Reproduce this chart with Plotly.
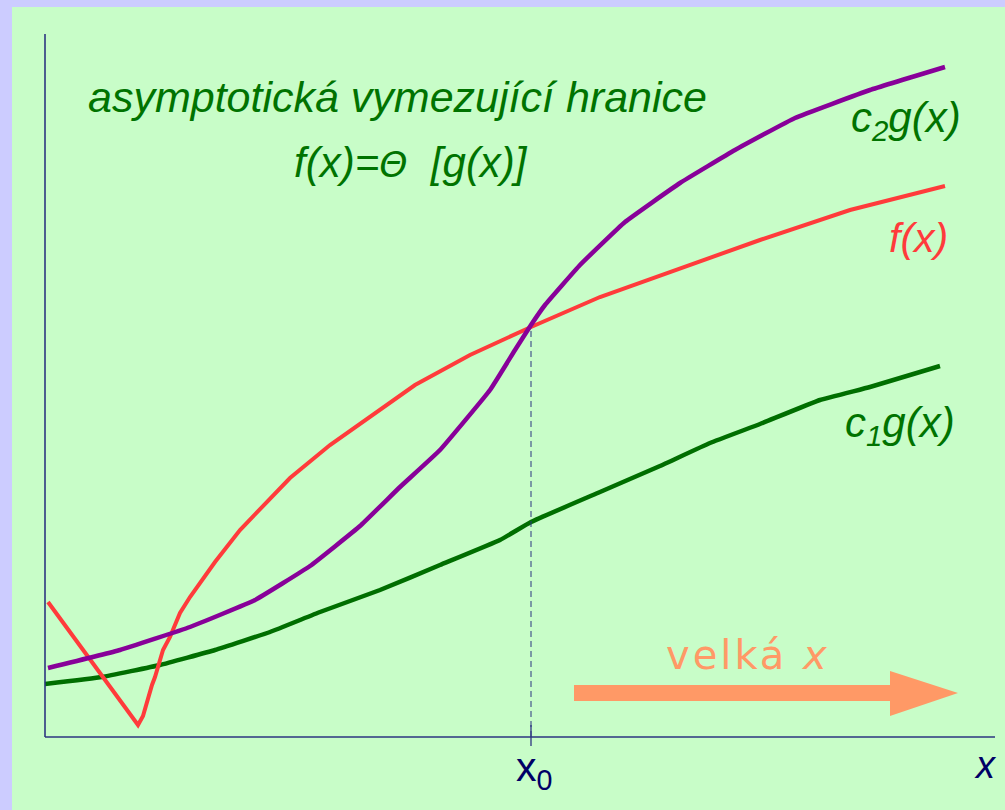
import plotly.graph_objects as go

# Data (x to the right of origin, y above the x axis)
c2g_x = [3, 75, 145, 210, 265, 315, 355, 395, 445, 470, 486, 500, 535, 580, 635, 690, 750, 825, 900]
c2g_y = [69, 87, 110, 137, 171, 211, 250, 287, 347, 387, 412, 432, 472, 515, 554, 587, 619, 647, 670]

f_x = [3, 25, 50, 73, 88, 93, 98, 101, 103, 107, 110, 115, 118, 125, 135, 145, 157, 170,
       195, 245, 285, 320, 370, 425, 486, 555, 635, 715, 805, 900]
f_y = [135, 105, 72, 40, 20, 12, 21, 32, 40, 52, 60, 77, 87, 100, 124, 140, 157, 175,
       207, 259, 292, 317, 352, 382, 410, 440, 469, 497, 527, 551]

c1g_x = [0, 57, 115, 170, 225, 275, 335, 395, 455, 486, 555, 615, 665, 715, 775, 825, 895]
c1g_y = [53, 60, 72, 87, 105, 125, 147, 172, 197, 215, 245, 271, 294, 313, 337, 350, 371]

x0 = 486
f_at_x0 = 410
x_axis_end = 950
y_axis_end = 703

GREEN_BG = "#c8fdc8"
LAVENDER = "#ccccff"
NAVY = "#2d3580"
TEXT_NAVY = "#000066"
GREEN = "#007300"
PURPLE = "#880099"
RED = "#ff3b3b"
SALMON = "#ff9966"

fig = go.Figure()

fig.add_trace(go.Scatter(x=c1g_x, y=c1g_y, mode="lines",
                         line=dict(color="#006e00", width=4.5, shape="spline", smoothing=0.3),
                         hoverinfo="skip"))
fig.add_trace(go.Scatter(x=f_x, y=f_y, mode="lines",
                         line=dict(color=RED, width=4),
                         hoverinfo="skip"))
fig.add_trace(go.Scatter(x=c2g_x, y=c2g_y, mode="lines",
                         line=dict(color=PURPLE, width=4.5, shape="spline", smoothing=0.3),
                         hoverinfo="skip"))

shapes = [
    # lavender frame strips
    dict(type="rect", xref="paper", yref="paper", x0=0, x1=1, y0=1 - 7 / 810, y1=1,
         fillcolor=LAVENDER, line=dict(width=0), layer="below"),
    dict(type="rect", xref="paper", yref="paper", x0=0, x1=12 / 1005, y0=0, y1=1,
         fillcolor=LAVENDER, line=dict(width=0), layer="below"),
    # axes
    dict(type="line", x0=0, x1=0, y0=0, y1=y_axis_end, line=dict(color=NAVY, width=1.6)),
    dict(type="line", x0=0, x1=x_axis_end, y0=0, y1=0, line=dict(color=NAVY, width=1.6)),
    # tick at x0
    dict(type="line", x0=x0, x1=x0, y0=-9, y1=12, line=dict(color=NAVY, width=1.3)),
    # dashed line up to intersection
    dict(type="line", x0=x0, x1=x0, y0=0, y1=f_at_x0, line=dict(color=NAVY, width=1, dash="6px,4px")),
    # arrow "velka x"
    dict(type="path",
         path="M 529 52 L 845 52 L 845 66 L 913 44 L 845 21 L 845 36 L 529 36 Z",
         fillcolor=SALMON, line=dict(width=0)),
]

font_main = "Liberation Sans, Arial, sans-serif"

annotations = [
    dict(x=352, y=640, text="asymptotická vymezující hranice",
         font=dict(family=font_main, size=43, color=GREEN, style="italic")),
    dict(x=366, y=575,
         text="f(x)=<span style='font-family:DejaVu Sans;font-size:36px'>Θ</span>  [g(x)]",
         font=dict(family=font_main, size=42, color=GREEN, style="italic")),
    dict(x=861, y=617, text="c<sub>2</sub>g(x)",
         font=dict(family=font_main, size=42, color=GREEN, style="italic")),
    dict(x=873, y=499, text="f(x)",
         font=dict(family=font_main, size=41, color=RED, style="italic")),
    dict(x=855, y=312, text="c<sub>1</sub>g(x)",
         font=dict(family=font_main, size=42, color=GREEN, style="italic")),
    dict(x=701, y=82, text="<span style='letter-spacing:3px'>velká </span><i>x</i>",
         font=dict(family="DejaVu Sans, sans-serif", size=40, color=SALMON)),
    dict(x=489, y=-33, text="x<sub>0</sub>",
         font=dict(family=font_main, size=41, color=TEXT_NAVY)),
    dict(x=940, y=-28, text="x",
         font=dict(family=font_main, size=38, color=TEXT_NAVY, style="italic")),
]
for a in annotations:
    a.update(showarrow=False, xanchor="center", yanchor="middle")

fig.update_layout(
    width=1005, height=810,
    margin=dict(l=0, r=0, t=0, b=0),
    paper_bgcolor=GREEN_BG, plot_bgcolor=GREEN_BG,
    showlegend=False,
    xaxis=dict(range=[-45, 960], visible=False, fixedrange=True),
    yaxis=dict(range=[-73, 737], visible=False, fixedrange=True),
    shapes=shapes,
    annotations=annotations,
)

fig.write_html(
    "out.html",
    config={"displayModeBar": False},
    post_script="document.body.style.margin='0px';document.body.style.backgroundColor='#c8fdc8';",
)
